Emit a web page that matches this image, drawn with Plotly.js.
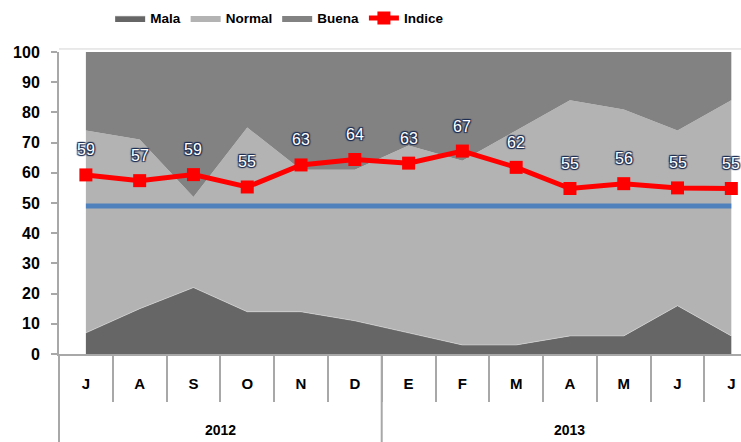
<!DOCTYPE html>
<html>
<head>
<meta charset="utf-8">
<script src="https://cdn.plot.ly/plotly-3.0.1.min.js"></script>
<style>html,body{margin:0;padding:0;background:#fff;}#chart{width:741px;height:442px;}</style>
</head>
<body>
<div id="chart"></div>
<script>
// ---- data ----
var months = ["J","A","S","O","N","D","E","F","M","A","M","J","J"];
var years = ["2012","2013"];
var yearStart = [0, 6];
var yearEnd = [5, 12];
var mala   = [7, 15, 22, 14, 14, 11, 7, 3, 3, 6, 6, 16, 6];
var normal = [67, 56, 30, 61, 47, 50, 62, 61, 71, 78, 75, 58, 78];
var buena  = [26, 29, 48, 25, 39, 39, 31, 36, 26, 16, 19, 26, 16];
var indice = [59.3, 57.4, 59.4, 55.3, 62.6, 64.4, 63.2, 67.2, 61.8, 54.8, 56.4, 55.0, 54.8];
var referencia = [49, 49, 49, 49, 49, 49, 49, 49, 49, 49, 49, 49, 49];

var xs = months.map(function(_, i){ return i; });
var xmin = -0.5, xmax = 12.18;
function px(v){ return (v - xmin) / (xmax - xmin); }

var FONT = "Liberation Sans, Arial, sans-serif";

var traces = [
  {x: xs, y: mala, name: "Mala", type: "scatter", mode: "lines", stackgroup: "s",
   line: {width: 0.6, color: "#d8d8d8"}, fillcolor: "#666666", hoverinfo: "skip"},
  {x: xs, y: normal, name: "Normal", type: "scatter", mode: "lines", stackgroup: "s",
   line: {width: 0}, fillcolor: "#b3b3b3", hoverinfo: "skip"},
  {x: xs, y: buena, name: "Buena", type: "scatter", mode: "lines", stackgroup: "s",
   line: {width: 0}, fillcolor: "#828282", hoverinfo: "skip"},
  {x: xs, y: referencia, name: "Referencia", type: "scatter", mode: "lines", showlegend: false,
   line: {width: 5, color: "#4f81bd"}, hoverinfo: "skip"},
  {x: xs, y: indice, name: "Indice", type: "scatter", mode: "lines+markers",
   line: {width: 5, color: "#ff0000"}, marker: {symbol: "square", size: 13, color: "#ff0000"},
   hoverinfo: "skip", cliponaxis: false}
];

var annotations = indice.map(function(v, i){
  return {x: i, y: v, xref: "x", yref: "y", text: String(Math.round(v)), showarrow: false,
    yshift: 25,
    font: {family: FONT, size: 16, color: "#ffffff",
           shadow: "1px 1px 1px #1a2a50, -1px -1px 1px #1a2a50, 1px -1px 1px #1a2a50, -1px 1px 1px #1a2a50"}};
});
years.forEach(function(y, k){
  annotations.push({x: (yearStart[k] + yearEnd[k]) / 2, y: -0.252, xref: "x", yref: "paper",
    text: "<b>" + y + "</b>", showarrow: false, yanchor: "middle",
    font: {family: FONT, size: 14, color: "#000"}});
});

var shapes = [
  {type: "line", xref: "paper", yref: "paper", x0: 0, x1: 0, y0: 0, y1: -0.2914,
   line: {color: "#a8a8a8", width: 2}},
  {type: "line", xref: "paper", yref: "paper", x0: px(5.5), x1: px(5.5), y0: 0, y1: -0.2914,
   line: {color: "#a8a8a8", width: 2}},
  {type: "line", xref: "paper", yref: "paper", x0: 0, x1: 1, y0: 1.01, y1: 1.01,
   line: {color: "#d4d4d4", width: 1}}
];

var boundaries = [];
for (var i = 1; i < months.length; i++) boundaries.push(i - 0.5);

var layout = {
  width: 741, height: 442,
  margin: {l: 59, r: 0, t: 52, b: 88},
  paper_bgcolor: "#ffffff", plot_bgcolor: "#ffffff",
  showlegend: true,
  legend: {orientation: "h", x: 0.075, xanchor: "left", y: 1.163, yanchor: "top",
    font: {family: FONT, size: 13.5, color: "#000", weight: "bold"}, traceorder: "normal",
    itemwidth: 30, tracegroupgap: 0},
  xaxis: {type: "linear", range: [xmin, xmax], tickmode: "array", tickvals: xs, ticktext: months,
    ticks: "", showgrid: false, zeroline: false, showline: true, linecolor: "#a8a8a8", linewidth: 2,
    tickfont: {family: FONT, size: 15, color: "#000", weight: "bold"}, ticklabelstandoff: 15,
    minor: {tickmode: "array", tickvals: boundaries, ticks: "outside", ticklen: 46, tickwidth: 2,
            tickcolor: "#a8a8a8", showgrid: false},
    fixedrange: true},
  yaxis: {range: [0, 100], tickmode: "linear", tick0: 0, dtick: 10, ticks: "outside", ticklen: 6,
    tickwidth: 2, tickcolor: "#a8a8a8", showline: true, linecolor: "#a8a8a8", linewidth: 2,
    showgrid: false, zeroline: false, ticklabelstandoff: 8,
    tickfont: {family: FONT, size: 16, color: "#000", weight: "bold"}, fixedrange: true},
  annotations: annotations,
  shapes: shapes
};

Plotly.newPlot("chart", traces, layout, {displayModeBar: false, staticPlot: true});
</script>
</body>
</html>
